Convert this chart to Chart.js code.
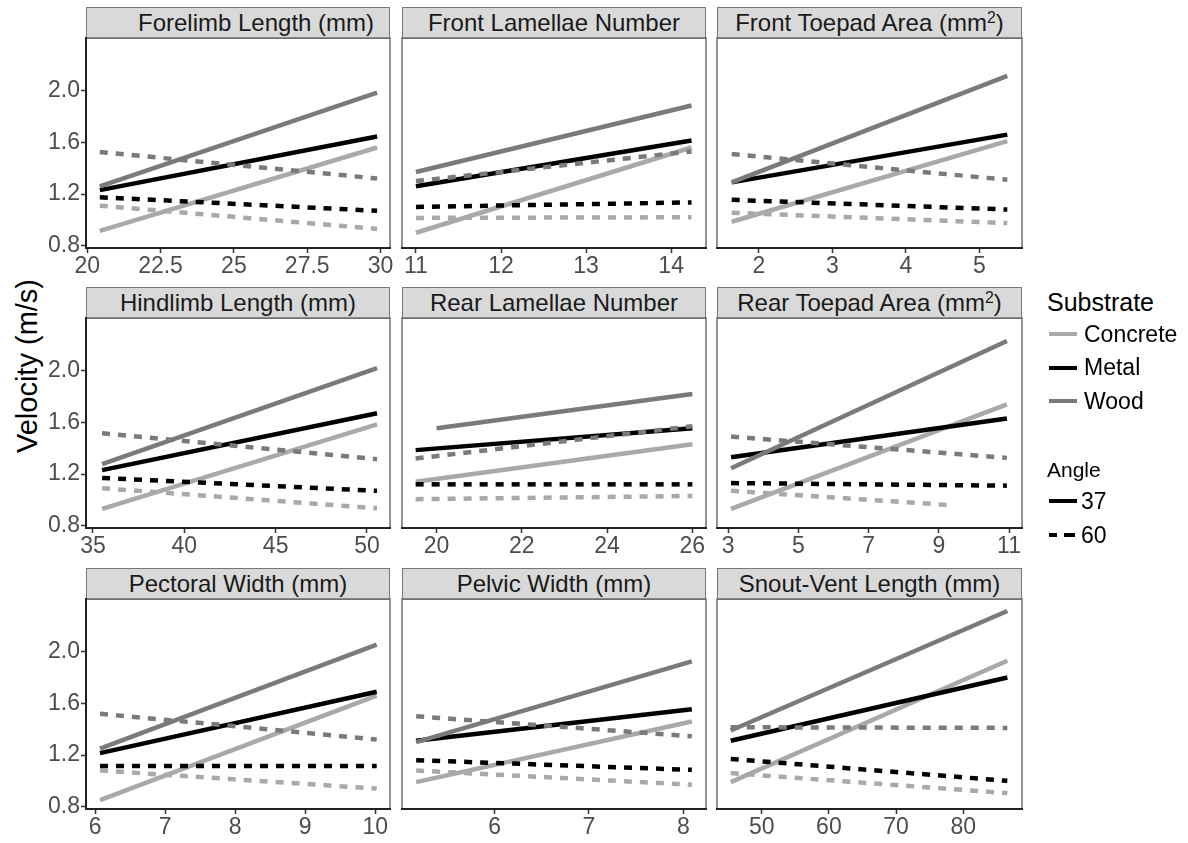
<!DOCTYPE html>
<html>
<head>
<meta charset="utf-8">
<script src="https://cdn.jsdelivr.net/npm/chart.js@4.4.1/dist/chart.umd.min.js"></script>
<style>
  body { margin: 0; background: #fff; font-family: "Liberation Sans", Arial, sans-serif; }
  #wrap { position: relative; width: 1188px; height: 843px; overflow: hidden; }
  canvas { position: absolute; }
  .strip {
    position: absolute; box-sizing: border-box; height: 32px;
    background: #d9d9d9; border: 1.5px solid #777; color: #1a1a1a;
    font-size: 24px; text-align: center; line-height: 29px; white-space: nowrap;
  }
  .strip sup { font-size: 16px; vertical-align: 0; position: relative; top: -8px; }
  #ytitle {
    position: absolute; left: 27px; top: 366px; font-size: 29px; color: #000;
    transform: translate(-50%, -50%) rotate(-90deg); white-space: nowrap;
  }
  .lg { position: absolute; white-space: nowrap; color: #000; }
  .key { position: absolute; height: 4px; }
</style>
</head>
<body>
<div id="wrap">
  <div id="ytitle">Velocity (m/s)</div>
</div>
<script>
// facet titles, row by row
var panelTitles = [
  'Forelimb Length (mm)', 'Front Lamellae Number', 'Front Toepad Area (mm<sup>2</sup>)',
  'Hindlimb Length (mm)', 'Rear Lamellae Number', 'Rear Toepad Area (mm<sup>2</sup>)',
  'Pectoral Width (mm)', 'Pelvic Width (mm)', 'Snout-Vent Length (mm)'
];

// x axis limits and ticks per panel
var xMin = [19.96, 10.836, 1.43, 34.62, 19.19, 2.68, 5.87, 5.02, 43.35];
var xMax = [30.32, 14.41, 5.58, 51.26, 26.32, 11.37, 10.21, 8.24, 88.73];
var xTicks = [
  [20, 22.5, 25, 27.5, 30], [11, 12, 13, 14], [2, 3, 4, 5],
  [35, 40, 45, 50], [20, 22, 24, 26], [3, 5, 7, 9, 11],
  [6, 7, 8, 9, 10], [6, 7, 8], [50, 60, 70, 80]
];
var yTicks = [0.8, 1.2, 1.6, 2.0];
var yMin = 0.782, yMax = 2.408;

// range of each fitted line
var xFrom = [20.43, 11.0, 1.63, 35.5, 19.51, 3.08, 6.07, 5.17, 45.39];
var xTo   = [29.88, 14.24, 5.38, 50.55, 26.0, 10.94, 10.02, 8.09, 86.55];
var wood37From   = [20.43, 11.0, 1.63, 35.5, 20.0, 3.08, 6.07, 5.17, 45.39];
var concrete60To = [29.88, 14.24, 5.38, 50.55, 26.0, 9.27, 10.02, 8.09, 86.55];

// velocity at start and end of each line [start, end]
var concrete37 = [[0.915, 1.56], [0.90, 1.56], [0.985, 1.61], [0.93, 1.585], [1.14, 1.43], [0.93, 1.74], [0.85, 1.66], [0.99, 1.46], [0.99, 1.93]];
var metal37    = [[1.23, 1.645], [1.26, 1.615], [1.29, 1.66], [1.23, 1.67], [1.385, 1.555], [1.33, 1.63], [1.215, 1.69], [1.31, 1.555], [1.31, 1.80]];
var wood37     = [[1.26, 1.985], [1.37, 1.885], [1.29, 2.115], [1.277, 2.02], [1.555, 1.82], [1.245, 2.23], [1.25, 2.055], [1.30, 1.925], [1.39, 2.315]];
var concrete60 = [[1.11, 0.93], [1.015, 1.02], [1.055, 0.975], [1.09, 0.935], [1.005, 1.03], [1.07, 0.96], [1.08, 0.94], [1.08, 0.97], [1.06, 0.905]];
var metal60    = [[1.175, 1.07], [1.10, 1.135], [1.155, 1.08], [1.17, 1.07], [1.12, 1.12], [1.13, 1.11], [1.115, 1.115], [1.16, 1.085], [1.17, 1.0]];
var wood60     = [[1.525, 1.32], [1.30, 1.53], [1.51, 1.31], [1.515, 1.315], [1.32, 1.57], [1.49, 1.325], [1.52, 1.32], [1.50, 1.345], [1.415, 1.41]];

var substrates = ['Concrete', 'Metal', 'Wood'];
var angles = ['37', '60'];

var colours = { Concrete: '#a9a9a9', Metal: '#000000', Wood: '#7a7a7a' };
var dash = [8, 8];
var font = '"Liberation Sans", Arial, sans-serif';

// page layout
var colLeft = [86, 402, 717];
var colWidth = [304, 304, 305];
var rowTop = [38, 318, 599];
var plotH = 210;
var axisW = 60, axisH = 40, padTop = 18, padRight = 24;

var wrap = document.getElementById('wrap');

var frame = {
  id: 'frame',
  beforeDraw: function(chart) {
    var a = chart.chartArea, ctx = chart.ctx;
    ctx.save();
    ctx.strokeStyle = '#6e6e6e';
    ctx.lineWidth = 1.5;
    ctx.strokeRect(a.left, a.top, a.right - a.left, a.bottom - a.top);
    ctx.restore();
  }
};

function line(x0, x1, vals, colour, dashed) {
  return {
    data: [{ x: x0, y: vals[0] }, { x: x1, y: vals[1] }],
    showLine: true,
    pointRadius: 0,
    borderWidth: 4.5,
    borderColor: colour,
    borderDash: dashed ? dash : [],
    borderCapStyle: 'butt',
    fill: false
  };
}

panelTitles.forEach(function(title, i) {
  var col = i % 3, row = Math.floor(i / 3);

  var strip = document.createElement('div');
  strip.className = 'strip';
  strip.style.left = colLeft[col] + 'px';
  strip.style.top = (rowTop[row] - 31) + 'px';
  strip.style.width = colWidth[col] + 'px';
  if (i === 0) strip.style.paddingLeft = '36px';
  strip.innerHTML = title;
  wrap.appendChild(strip);

  var canvas = document.createElement('canvas');
  canvas.width = colWidth[col] + axisW + padRight;
  canvas.height = plotH + padTop + axisH;
  canvas.style.left = (colLeft[col] - axisW) + 'px';
  canvas.style.top = (rowTop[row] - padTop) + 'px';
  wrap.appendChild(canvas);

  // first dataset is drawn on top
  var datasets = [
    line(xFrom[i], xTo[i], wood60[i], colours.Wood, true),
    line(xFrom[i], xTo[i], metal60[i], colours.Metal, true),
    line(xFrom[i], concrete60To[i], concrete60[i], colours.Concrete, true),
    line(wood37From[i], xTo[i], wood37[i], colours.Wood, false),
    line(xFrom[i], xTo[i], metal37[i], colours.Metal, false),
    line(xFrom[i], xTo[i], concrete37[i], colours.Concrete, false)
  ];

  var leftCol = col === 0;

  new Chart(canvas, {
    type: 'scatter',
    data: { datasets: datasets },
    options: {
      responsive: false,
      animation: false,
      devicePixelRatio: 1,
      layout: { padding: { left: 0, top: padTop, right: padRight, bottom: 0 } },
      plugins: { legend: { display: false }, tooltip: { enabled: false } },
      scales: {
        x: {
          type: 'linear',
          min: xMin[i],
          max: xMax[i],
          afterBuildTicks: function(s) { s.ticks = xTicks[i].map(function(v) { return { value: v }; }); },
          afterFit: function(s) { s.height = axisH; },
          grid: { drawOnChartArea: false, drawTicks: true, tickLength: 5, tickColor: '#333', tickWidth: 1.5 },
          border: { display: true, color: '#222', width: 2 },
          ticks: {
            font: { size: 23, family: font }, color: '#4d4d4d', padding: 0,
            maxRotation: 0, autoSkip: false,
            callback: function(v) { return String(v); }
          }
        },
        y: {
          type: 'linear',
          min: yMin,
          max: yMax,
          afterBuildTicks: function(s) { s.ticks = yTicks.map(function(v) { return { value: v }; }); },
          afterFit: function(s) { s.width = axisW; },
          grid: { display: leftCol, drawOnChartArea: false, drawTicks: true, tickLength: 5, tickColor: '#333', tickWidth: 1.5 },
          border: { display: leftCol, color: '#222', width: 2 },
          ticks: {
            display: leftCol,
            font: { size: 23, family: font }, color: '#4d4d4d', padding: 1,
            callback: function(v) { return v.toFixed(1); }
          }
        }
      }
    },
    plugins: [frame]
  });
});

// legend
function addText(text, left, top, size) {
  var d = document.createElement('div');
  d.className = 'lg';
  d.textContent = text;
  d.style.left = left + 'px';
  d.style.top = (top - size * 0.58) + 'px';
  d.style.fontSize = size + 'px';
  wrap.appendChild(d);
}
function addKey(left, top, width, colour) {
  var k = document.createElement('div');
  k.className = 'key';
  k.style.left = left + 'px';
  k.style.top = (top - 2) + 'px';
  k.style.width = width + 'px';
  k.style.background = colour;
  wrap.appendChild(k);
}

addText('Substrate', 1047, 302, 25);
substrates.forEach(function(s, j) {
  var y = 334 + j * 33.5;
  addKey(1049, y, 28, colours[s]);
  addText(s, 1084, y, 23);
});
addText('Angle', 1047, 470, 21);
angles.forEach(function(a, j) {
  var y = 501 + j * 34;
  if (j === 0) {
    addKey(1049, y, 28, '#000');
  } else {
    addKey(1049, y, 8, '#000');
    addKey(1064, y, 11, '#000');
  }
  addText(a, 1081, y, 23);
});
</script>
</body>
</html>
